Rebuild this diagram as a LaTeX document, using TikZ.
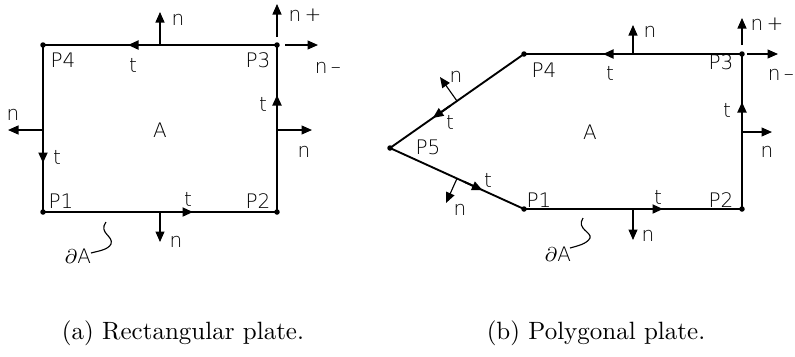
\documentclass[tikz,border=0pt]{standalone}
\usepackage{fontspec}
\usetikzlibrary{arrows.meta,calc}
\newfontfamily\labfont{DejaVuSans-ExtraLight}[Extension=.ttf]
\begin{document}
\begin{tikzpicture}[x=0.4pt,y=-0.4pt,
  edge/.style={line width=0.75pt},
  tarrow/.style={line width=0.75pt,-{Triangle[length=4.2pt,width=3.6pt]}},
  narrow/.style={line width=0.45pt,-{Triangle[length=4.2pt,width=3.6pt]}},
  lab/.style={font=\labfont\fontsize{8}{9}\selectfont, inner sep=0pt},
  capt/.style={font=\fontsize{10}{12}\selectfont, inner sep=0pt, anchor=base},
  dot/.style={circle,fill,inner sep=0pt,minimum size=2.2pt},
  squig/.style={line width=0.45pt}]
\useasboundingbox (0,0) rectangle (795,356);

% ---------------- (a) rectangular plate ----------------
\coordinate (a1) at (43,212);
\coordinate (a2) at (277,212);
\coordinate (a3) at (277,45);
\coordinate (a4) at (43,45);
\draw[edge] (a1) -- (a2) -- (a3) -- (a4) -- cycle;
\foreach \p in {a1,a2,a3,a4} \node[dot] at (\p) {};

% tangents
\draw[tarrow] (150,45) -- (128,45);
\draw[tarrow] (43,145) -- (43,163);
\draw[tarrow] (170,212) -- (193,212);
\draw[tarrow] (277,115) -- (277,95);
% normals
\draw[narrow] (160,45) -- (160,12);
\draw[narrow] (43,130) -- (8,130);
\draw[narrow] (160,212) -- (160,242);
\draw[narrow] (277,130) -- (312,130);
\draw[narrow] (277,37) -- (277,4);
\draw[narrow] (285,45) -- (318,45);

\node[lab] (aP1) at (61,201) {P1};
\node[lab] (aP2) at (258,201) {P2};
\node[lab] (aP3) at (258,60) {P3};
\node[lab] (aP4) at (63,60) {P4};
\node[lab] (aA) at (160,130) {A};
\node[lab] (atT) at (133,65) {t};
\node[lab] (atL) at (57,157) {t};
\node[lab] (atB) at (188,199) {t};
\node[lab] (atR) at (263,104) {t};
\node[lab] (anT) at (178,20) {n};
\node[lab] (anL) at (13,115) {n};
\node[lab] (anB) at (176,242) {n};
\node[lab] (anR) at (304,152) {n};
\node[lab] (anp) at (305,15) {n\,+};
\node[lab] (anm) at (328,68) {n\,–};
\node[lab] (adA) at (78,256) {$\partial$A};
\draw[squig] (106,222) .. controls (98,233) and (114,236) .. (111,244)
             .. controls (108,250) and (98,251) .. (91,253);

% ---------------- (b) polygonal plate ----------------
\coordinate (b1) at (524,209);
\coordinate (b2) at (742,209);
\coordinate (b3) at (742,54);
\coordinate (b4) at (524,54);
\coordinate (b5) at (390,148);
\draw[edge] (b1) -- (b2) -- (b3) -- (b4) -- (b5) -- cycle;
\foreach \p in {b1,b2,b3,b4,b5} \node[dot] at (\p) {};

% tangents
\draw[tarrow] (620,54) -- (603,54);
\draw[tarrow] (645,209) -- (663,209);
\draw[tarrow] (742,120) -- (742,102);
\draw[tarrow] ($(b4)!0.55!(b5)$) -- ($(b4)!0.68!(b5)$);
\draw[tarrow] ($(b5)!0.55!(b1)$) -- ($(b5)!0.69!(b1)$);
% normals
\draw[narrow] (633,54) -- (633,25);
\draw[narrow] (633,209) -- (633,240);
\draw[narrow] (742,132) -- (772,132);
\draw[narrow] (742,45) -- (742,18);
\draw[narrow] (747,54) -- (778,54);
\draw[narrow] (457,101) -- (440,77);
\draw[narrow] (457,178.5) -- (446,203);

\node[lab] (bP1) at (539,200) {P1};
\node[lab] (bP2) at (721,200) {P2};
\node[lab] (bP3) at (721,62) {P3};
\node[lab] (bP4) at (544,70) {P4};
\node[lab] (bP5) at (428,147) {P5};
\node[lab] (bA) at (590,132) {A};
\node[lab] (btT) at (610,73) {t};
\node[lab] (btB) at (658,197) {t};
\node[lab] (btR) at (727,110) {t};
\node[lab] (btU) at (450,122) {t};
\node[lab] (btD) at (488,180) {t};
\node[lab] (bnT) at (650,32) {n};
\node[lab] (bnB) at (648,236) {n};
\node[lab] (bnR) at (767,152) {n};
\node[lab] (bnU) at (456,77) {n};
\node[lab] (bnD) at (460,210) {n};
\node[lab] (bnp) at (767,24) {n\,+};
\node[lab] (bnm) at (781,75) {n\,–};
\node[lab] (bdA) at (558,254) {$\partial$A};
\draw[squig] (583,218) .. controls (576,229) and (592,232) .. (590,238)
             .. controls (587,244) and (577,246) .. (570,248);

% captions
\node[capt] (capa) at (183,339) {(a) Rectangular plate.};
\node[capt] (capb) at (596,339) {(b) Polygonal plate.};
\end{tikzpicture}
\end{document}
